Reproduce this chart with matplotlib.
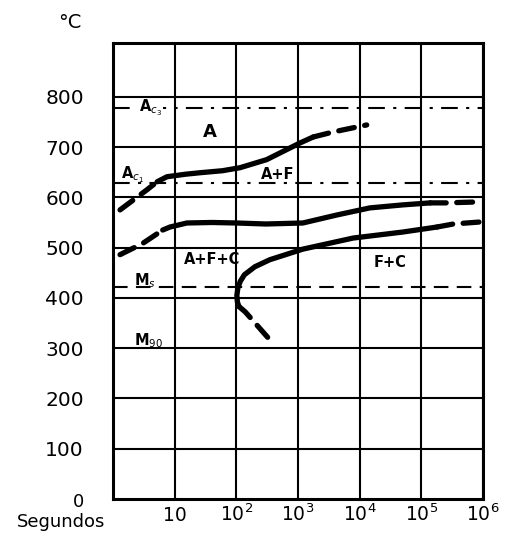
#
# Diagrama TTT - temperatura vs tiempo (escala log)
#
import numpy as np
import matplotlib.pyplot as plt
from matplotlib.ticker import NullLocator

# ejes
x_ticks = [10, 1e2, 1e3, 1e4, 1e5, 1e6]
x_labels = ["10", "10$^2$", "10$^3$", "10$^4$", "10$^5$", "10$^6$"]
y_ticks = [100, 200, 300, 400, 500, 600, 700, 800]

# temperaturas criticas
T_ac3 = 778
T_ac1 = 629
T_ms = 421

# curva superior (inicio ferrita)
up_dash_t = [1.3, 3.55, 5.2]
up_dash_T = [575, 615, 631]
up_t = [5.2, 7.5, 15, 26, 60, 115, 310, 1070, 1760]
up_T = [631, 641, 646, 649, 653, 659, 675, 708, 720]
up_dash2_t = [1760, 3700, 13000]
up_dash2_T = [720, 730, 744]

# curva media (inicio A+F+C)
mid_dash_t = [1.3, 3.0, 6.4]
mid_dash_T = [486, 508, 535]
mid_t = [6.4, 8.4, 15.8, 40, 100, 300, 1200, 4300, 14600, 50000, 140000]
mid_T = [535, 541, 549, 550, 549, 547, 549, 565, 579, 585, 589]
mid_dash2_t = [140000, 250000, 900000]
mid_dash2_T = [589, 589, 591]

# curva inferior (fin transformacion)
low_t = [110, 104, 102, 106, 116, 135, 200, 350, 1200, 7800, 50000, 180000]
low_T = [383, 392, 405, 420, 433, 446, 462, 476, 497, 519, 531, 541]
low_dash_t = [180000, 330000, 900000]
low_dash_T = [541, 547, 551]
nose_dash_t = [110, 140, 390]
nose_dash_T = [383, 372, 310]

fig = plt.figure(figsize=(5.1, 5.4), dpi=100)
ax = fig.add_axes([113/510, 1-499/540, 370/510, 456/540])
ax.set_xscale("log")
ax.set_xlim(1, 1e6)
ax.set_ylim(0, 907)

# rejilla
ax.set_xticks(x_ticks, x_labels)
ax.xaxis.set_minor_locator(NullLocator())
ax.set_yticks(y_ticks, [str(v) for v in y_ticks])
ax.grid(True, color="black", lw=1.5)
ax.tick_params(length=0)
ax.tick_params(axis="y", pad=21, labelsize=14.5)
ax.tick_params(axis="x", pad=16, labelsize=13.5)
for lab in ax.get_xticklabels():
    lab.set_va("baseline")
for sp in ax.spines.values():
    sp.set_linewidth(2.2)

# lineas criticas
ax.axhline(T_ac3, color="black", lw=1.5, dashes=(8, 4, 1.5, 4), zorder=1)
ax.axhline(T_ac1, color="black", lw=1.5, dashes=(8, 4, 1.5, 4), zorder=1)
ax.axhline(T_ms, color="black", lw=1.5, dashes=(7, 4), zorder=1)

# curvas
solid = dict(color="black", lw=3.8, solid_capstyle="round", solid_joinstyle="round")
dashed = dict(color="black", lw=3.8, dashes=(3, 2), dash_capstyle="round")
ax.plot(up_dash_t, up_dash_T, **dashed)
ax.plot(up_t, up_T, **solid)
ax.plot(up_dash2_t, up_dash2_T, **dashed)
ax.plot(mid_dash_t, mid_dash_T, **dashed)
ax.plot(mid_t, mid_T, **solid)
ax.plot(mid_dash2_t, mid_dash2_T, **dashed)
ax.plot(low_t, low_T, **solid)
ax.plot(low_dash_t, low_dash_T, **dashed)
ax.plot(nose_dash_t, nose_dash_T, **dashed)

# etiquetas
lbl = dict(fontsize=10.5, fontweight="bold", ha="center", va="center")
ax.text(4.0, T_ac3, "A$_{c_3}$", bbox=dict(fc="white", ec="none", pad=1),
        zorder=1.4, **lbl)
ax.text(37, 730, "A", fontsize=13, fontweight="bold", ha="center", va="center")
ax.text(2.1, 645, "A$_{c_1}$", **lbl)
ax.text(470, 645, "A+F", **lbl)
ax.text(40, 476, "A+F+C", **lbl)
ax.text(31000, 470, "F+C", **lbl)
ax.text(3.3, 435, "M$_s$", **lbl)
ax.text(3.7, 315, "M$_{90}$", **lbl)

fig.text(70/510, 1-23/540, "°C", fontsize=14, ha="center", va="center")
fig.text(78/510, 1-502/540, "0", fontsize=13, ha="center", va="center")
fig.text(61/510, 1-527/540, "Segundos", fontsize=13, ha="center", va="baseline")

fig.savefig("out.png", dpi=100)
